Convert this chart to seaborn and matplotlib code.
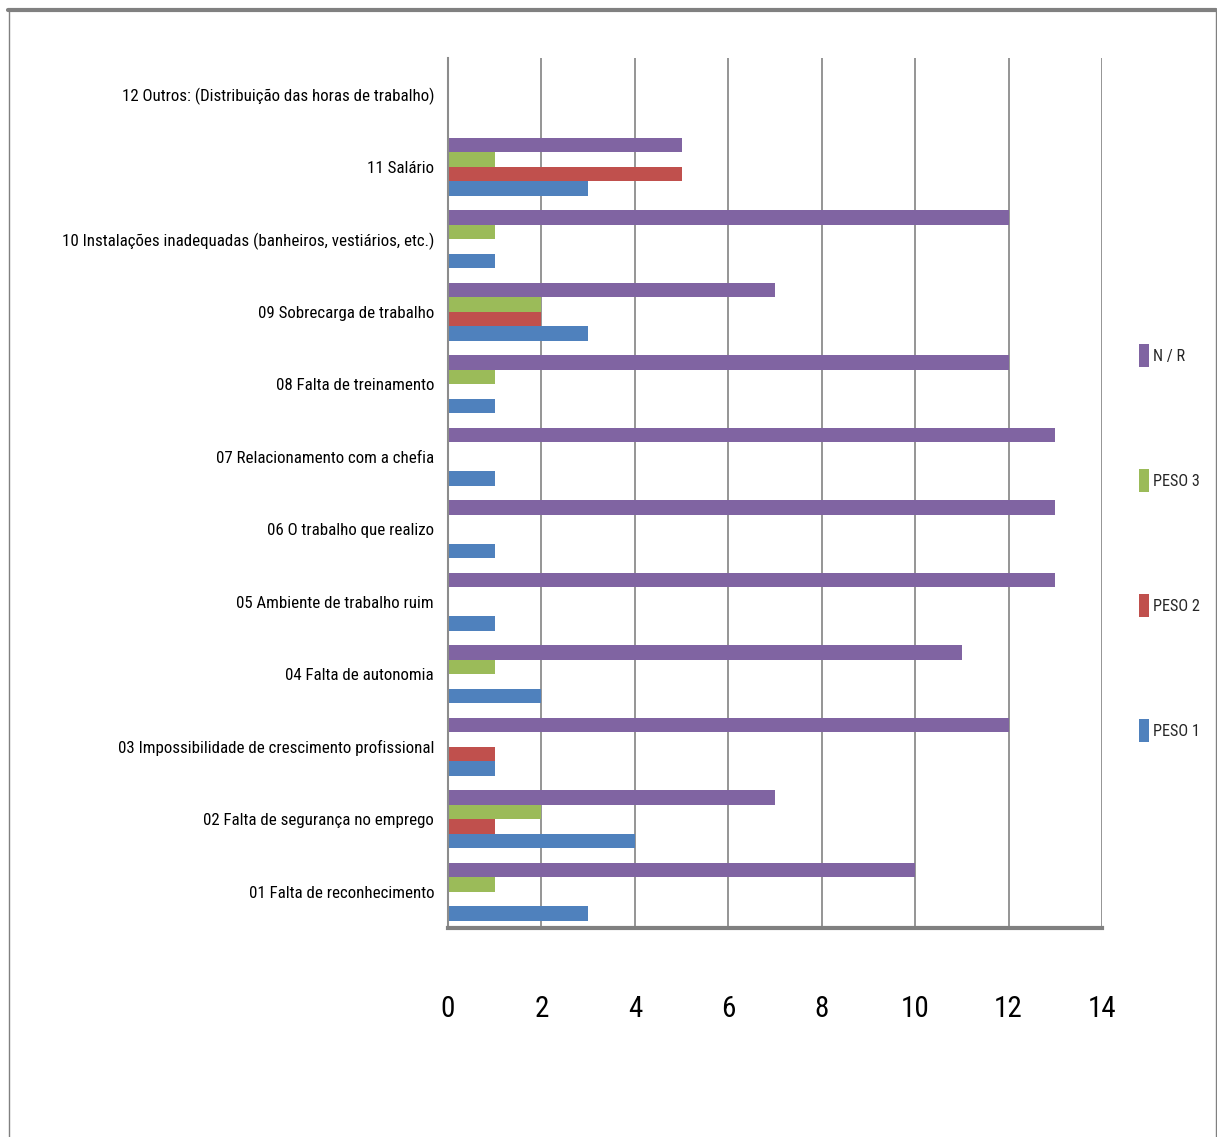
import matplotlib
matplotlib.use("Agg")
import matplotlib.pyplot as plt
from matplotlib import font_manager as fm
from matplotlib.lines import Line2D
from matplotlib.ticker import MultipleLocator, FixedLocator
import seaborn as sns
import pandas as pd

categorias = [
    "12 Outros: (Distribuição das horas de trabalho)",
    "11 Salário",
    "10 Instalações inadequadas (banheiros, vestiários, etc.)",
    "09 Sobrecarga de trabalho",
    "08 Falta de treinamento",
    "07 Relacionamento com a chefia",
    "06 O trabalho que realizo",
    "05 Ambiente de trabalho ruim",
    "04 Falta de autonomia",
    "03 Impossibilidade de crescimento profissional",
    "02 Falta de segurança no emprego",
    "01 Falta de reconhecimento",
]
peso1 = [0, 3, 1, 3, 1, 1, 1, 1, 2, 1, 4, 3]
peso2 = [0, 5, 0, 2, 0, 0, 0, 0, 0, 1, 1, 0]
peso3 = [0, 1, 1, 2, 1, 0, 0, 0, 1, 0, 2, 1]
nr = [0, 5, 12, 7, 12, 13, 13, 13, 11, 12, 7, 10]

series = ["N/R", "PESO 3", "PESO 2", "PESO 1"]
cores = {"N/R": "#8064A2", "PESO 3": "#9BBB59", "PESO 2": "#C0504D", "PESO 1": "#4F81BD"}
legenda = {"N/R": "N / R", "PESO 3": "PESO 3", "PESO 2": "PESO 2", "PESO 1": "PESO 1"}

valores = {"N/R": nr, "PESO 3": peso3, "PESO 2": peso2, "PESO 1": peso1}
linhas = []
for s in series:
    for c, v in zip(categorias, valores[s]):
        linhas.append({"categoria": c, "serie": s, "valor": v})
df = pd.DataFrame(linhas)

sns.set_theme(style="white")

# prefer a narrow face if one is installed, otherwise a compact sans
familia, largura = "Liberation Sans", "normal"
entradas = fm.fontManager.ttflist
nomes = {f.name for f in entradas}
estreitas = [f for f in entradas
             if str(f.stretch) in ("condensed", "semi-condensed", "extra-condensed")
             and f.style == "normal" and f.weight in (400, "normal", "regular")]
for pref in ["Liberation Sans Narrow", "Roboto Condensed", "Open Sans Condensed",
             "Noto Sans Condensed", "DejaVu Sans Condensed"]:
    if pref in nomes:
        familia = pref
        break
else:
    if estreitas:
        familia, largura = estreitas[0].name, str(estreitas[0].stretch)
plt.rcParams["font.family"] = [familia, "DejaVu Sans"]
plt.rcParams["font.stretch"] = largura

fig = plt.figure(figsize=(12.17, 11.37), dpi=100)
W, H = 1217, 1137
PX = 100 / 72  # pixels per point
ax = fig.add_axes([448 / W, 1 - 928 / H, (1102 - 448) / W, (928 - 58) / H])

sns.barplot(data=df, y="categoria", x="valor", hue="serie", order=categorias,
            hue_order=series, palette=cores, orient="h", width=0.8,
            saturation=1, linewidth=0, ax=ax, legend=True)

ax.set_xlim(0, 14)
ax.set_ylim(len(categorias) - 0.5, -0.5)
ax.xaxis.set_major_locator(MultipleLocator(2))
ax.grid(axis="x", color="#8C8C8C", linewidth=1.3)
ax.grid(axis="y", visible=False)
ax.set_axisbelow(True)
ax.set_xlabel("")
ax.set_ylabel("")

for side in ("top", "right"):
    ax.spines[side].set_visible(False)
ax.spines["left"].set_color("#8C8C8C")
ax.spines["left"].set_linewidth(1.5)
ax.spines["bottom"].set_color("#808080")
ax.spines["bottom"].set_linewidth(3)

ax.tick_params(axis="x", direction="out", length=12, width=1.3, color="#8C8C8C",
               pad=36, labelsize=21, labelcolor="black")
ax.tick_params(axis="y", which="major", length=0, pad=10, labelsize=16, labelcolor="black")
ax.yaxis.set_minor_locator(FixedLocator([i - 0.5 for i in range(len(categorias) + 1)]))
ax.tick_params(axis="y", which="minor", direction="out", length=4, width=2.5, color="#8C8C8C")

# size the category labels so the longest row name fits the space left of the axis
fig.canvas.draw()
rend = fig.canvas.get_renderer()
ref = [t for t in ax.get_yticklabels() if t.get_text().startswith("10 ")][0]
tam_y = 16 * 372 / ref.get_window_extent(rend).width
ax.tick_params(axis="y", which="major", labelsize=tam_y)

handles, labels = ax.get_legend_handles_labels()
ax.get_legend().remove()
nomes_leg = [legenda[l] for l in labels]

# legend text sized to fit the strip right of the plot
amostra = fig.text(0, 0, "PESO 1", fontsize=20)
tam_leg = 20 * 47 / amostra.get_window_extent(rend).width
amostra.remove()


def monta_legenda(espaco):
    return fig.legend(handles, nomes_leg, loc="center left",
                      bbox_to_anchor=(1132 / W, 1 - 543 / H), frameon=False,
                      fontsize=tam_leg, handlelength=10 / (tam_leg * PX),
                      handleheight=28 / (tam_leg * PX), handletextpad=0.3,
                      labelspacing=espaco, borderaxespad=0)


espaco = (125 - 28) / (tam_leg * PX)
leg = monta_legenda(espaco)
fig.canvas.draw()
ys = [t.get_window_extent(rend).y0 for t in leg.get_texts()]
passo = (ys[0] - ys[-1]) / (len(ys) - 1)
leg.remove()
espaco += (125 - passo) / (tam_leg * PX)
leg = monta_legenda(espaco)

# moldura da área do gráfico
fig.add_artist(Line2D([8 / W, 1216 / W], [1 - 9.5 / H, 1 - 9.5 / H], color="#808080", linewidth=3,
                      transform=fig.transFigure))
fig.add_artist(Line2D([8.5 / W, 8.5 / W], [0, 1 - 9.5 / H], color="#808080", linewidth=1,
                      transform=fig.transFigure))
fig.add_artist(Line2D([1215.5 / W, 1215.5 / W], [0, 1 - 9.5 / H], color="#808080", linewidth=1,
                      transform=fig.transFigure))

fig.savefig("out.png", dpi=100, facecolor="white")
